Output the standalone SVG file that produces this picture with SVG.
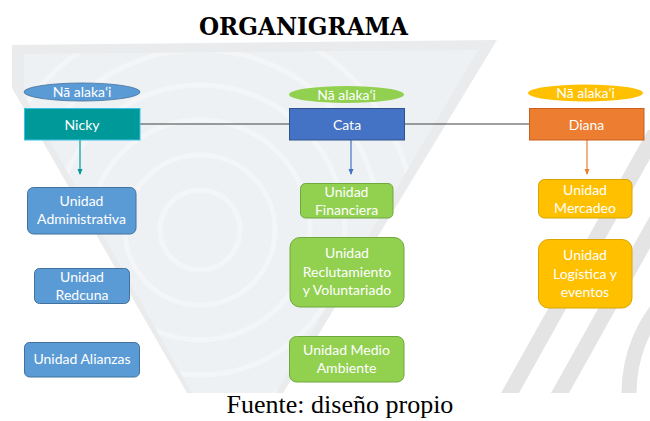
<svg xmlns="http://www.w3.org/2000/svg" width="650" height="421" viewBox="0 0 650 421">
<defs>
<style>
.nt{font-family:Lato,"Noto Sans","DejaVu Sans",sans-serif;font-size:14px;fill:#ffffff;text-anchor:middle}
.title{font-family:"DejaVu Serif","Liberation Serif",serif;font-weight:bold;font-size:24px;fill:#000;text-anchor:middle}
.cap{font-family:"Liberation Serif","Times New Roman",serif;font-size:26px;fill:#000;text-anchor:middle}
.wm{fill:#e4e4e4}
.blue{fill:#5b9bd5;stroke:#41719c;stroke-width:1}
.green{fill:#92d050;stroke:#6fa83c;stroke-width:1}
.yellow{fill:#ffc000;stroke:#d9a400;stroke-width:1}
.conn{fill:none;stroke-width:1.2}
</style>
<clipPath id="funnelClip"><polygon points="24,54 478,50 276,393 192,393 24,95"/></clipPath>
<clipPath id="bottomClip"><rect x="0" y="0" width="650" height="393"/></clipPath>
<marker id="aT" viewBox="0 0 6 6" refX="5" refY="3" markerWidth="6" markerHeight="6" orient="auto" markerUnits="userSpaceOnUse"><path d="M0,0.5 L6,3 L0,5.5 z" fill="#009999"/></marker>
<marker id="aB" viewBox="0 0 6 6" refX="5" refY="3" markerWidth="6" markerHeight="6" orient="auto" markerUnits="userSpaceOnUse"><path d="M0,0.5 L6,3 L0,5.5 z" fill="#4472c4"/></marker>
<marker id="aO" viewBox="0 0 6 6" refX="5" refY="3" markerWidth="6" markerHeight="6" orient="auto" markerUnits="userSpaceOnUse"><path d="M0,0.5 L6,3 L0,5.5 z" fill="#ed7d31"/></marker>
</defs>
<rect width="650" height="421" fill="#ffffff"/>
<g id="watermark">
<polygon points="12,45 497,40 283,393 187,393 12,88" fill="#eaebec"/>
<polygon points="24,54 478,50 276,393 192,393 24,95" fill="#eef1f3"/>
<g clip-path="url(#funnelClip)" fill="none" stroke="#f3f5f6" stroke-width="5">
<circle cx="200" cy="230" r="40"/>
<circle cx="200" cy="230" r="75"/>
<circle cx="200" cy="230" r="110"/>
<circle cx="200" cy="230" r="145"/>
<circle cx="200" cy="230" r="180"/>
<circle cx="200" cy="230" r="215"/>
</g>
<polygon points="648,130 666,130 519,393 501,393" class="wm"/>
<polygon points="698,130 716,130 569,393 551,393" class="wm"/>
<circle cx="768" cy="393" r="139" fill="none" stroke="#e4e4e4" stroke-width="15" clip-path="url(#bottomClip)"/>
</g>
<text class="title" x="303.5" y="35" textLength="209" lengthAdjust="spacingAndGlyphs">ORGANIGRAMA</text>
<g id="connectors">
<line x1="140" y1="124" x2="289" y2="124" stroke="#404040" stroke-width="1.2"/>
<line x1="404" y1="124" x2="529" y2="124" stroke="#404040" stroke-width="1.2"/>
<line class="conn" x1="80" y1="140" x2="80" y2="174" stroke="#009999" marker-end="url(#aT)"/>
<line class="conn" x1="351" y1="140" x2="351" y2="174" stroke="#4472c4" marker-end="url(#aB)"/>
<line class="conn" x1="587" y1="140" x2="587" y2="174" stroke="#ed7d31" marker-end="url(#aO)"/>
</g>
<g id="label-nicky">
<ellipse cx="82" cy="92" rx="58" ry="9" fill="#5b9bd5" stroke="#41719c" stroke-width="0.8"/>
<text class="nt" x="82" y="97">Nā alakaʻi</text>
</g>
<g id="label-cata">
<ellipse cx="346.5" cy="94.5" rx="57.5" ry="8.5" fill="#92d050"/>
<text class="nt" x="346.5" y="99.5">Nā alakaʻi</text>
</g>
<g id="label-diana">
<ellipse cx="585.5" cy="93" rx="57.5" ry="8.5" fill="#ffc000"/>
<text class="nt" x="585.5" y="98">Nā alakaʻi</text>
</g>
<g id="node-nicky">
<rect x="24.5" y="108.5" width="115.5" height="31.5" fill="#009999" stroke="#3cc0e8" stroke-width="1"/>
<text class="nt" x="82" y="130">Nicky</text>
</g>
<g id="node-cata">
<rect x="289.5" y="108.5" width="115" height="31.5" fill="#4472c4" stroke="#2f528f" stroke-width="1"/>
<text class="nt" x="347" y="130">Cata</text>
</g>
<g id="node-diana">
<rect x="529.5" y="108.5" width="114.5" height="31.5" fill="#ed7d31" stroke="#c9601c" stroke-width="1"/>
<text class="nt" x="586.5" y="130">Diana</text>
</g>
<g id="node-administrativa">
<rect class="blue" x="27.5" y="187.5" width="108.5" height="46.5" rx="6"/>
<text class="nt" x="81.5" y="206">Unidad</text>
<text class="nt" x="81.5" y="224">Administrativa</text>
</g>
<g id="node-redcuna">
<rect class="blue" x="34.5" y="268.5" width="95" height="35" rx="5"/>
<text class="nt" x="82" y="282">Unidad</text>
<text class="nt" x="82" y="300">Redcuna</text>
</g>
<g id="node-alianzas">
<rect class="blue" x="24.5" y="342.5" width="115" height="34.5" rx="5"/>
<text class="nt" x="82" y="364">Unidad Alianzas</text>
</g>
<g id="node-financiera">
<rect class="green" x="300.5" y="183.5" width="92.5" height="34.5" rx="5"/>
<text class="nt" x="346.5" y="197">Unidad</text>
<text class="nt" x="346.5" y="215">Financiera</text>
</g>
<g id="node-reclutamiento">
<rect class="green" x="290" y="237.5" width="114" height="69.5" rx="10"/>
<text class="nt" x="347" y="258">Unidad</text>
<text class="nt" x="347" y="277">Reclutamiento</text>
<text class="nt" x="347" y="295">y Voluntariado</text>
</g>
<g id="node-medio">
<rect class="green" x="289.5" y="336.5" width="114.5" height="45.5" rx="7"/>
<text class="nt" x="346.5" y="355">Unidad Medio</text>
<text class="nt" x="346.5" y="373">Ambiente</text>
</g>
<g id="node-mercadeo">
<rect class="yellow" x="538.5" y="179.5" width="93.5" height="38.5" rx="6"/>
<text class="nt" x="585" y="195">Unidad</text>
<text class="nt" x="585" y="213">Mercadeo</text>
</g>
<g id="node-logistica">
<rect class="yellow" x="538.5" y="239.5" width="93.5" height="68.5" rx="10"/>
<text class="nt" x="585" y="260">Unidad</text>
<text class="nt" x="585" y="279">Logística y</text>
<text class="nt" x="585" y="297">eventos</text>
</g>
<text class="cap" x="340" y="413">Fuente: diseño propio</text>
</svg>
